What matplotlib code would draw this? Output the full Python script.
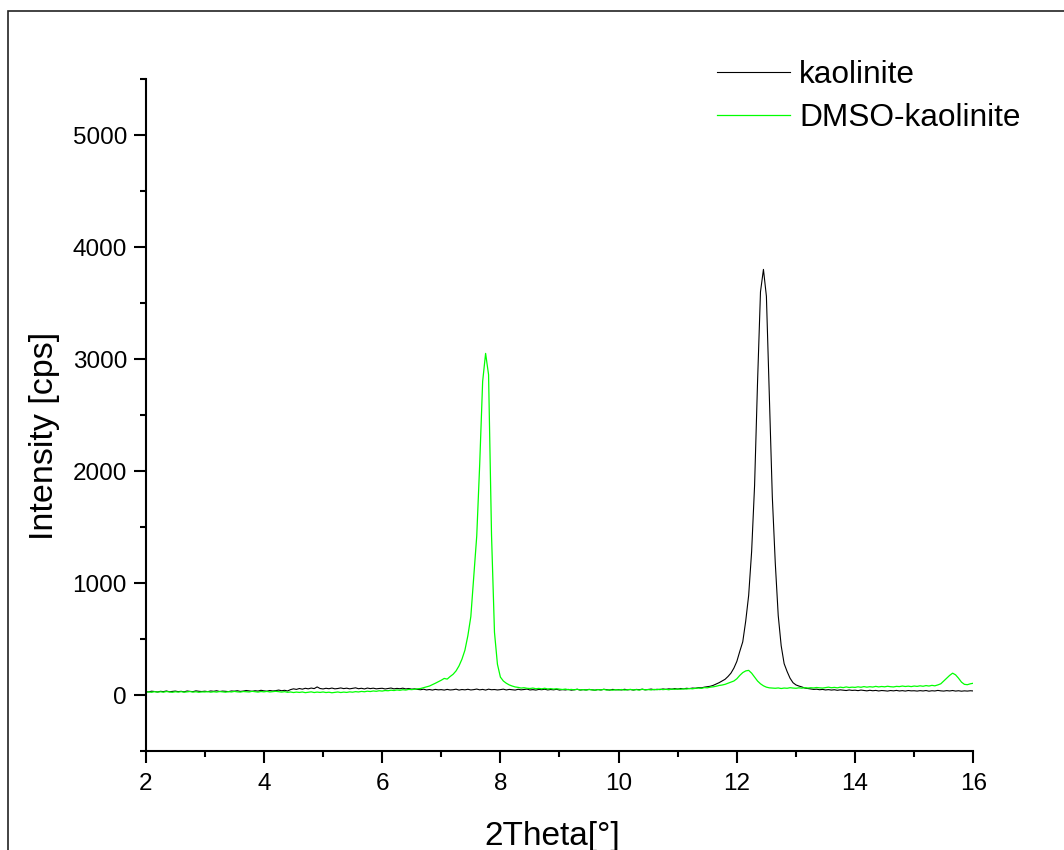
import numpy as np
import matplotlib
matplotlib.use("Agg")
import matplotlib.pyplot as plt
from matplotlib.ticker import MultipleLocator
from matplotlib.patches import Rectangle

plt.rcParams['font.family'] = ['Liberation Sans', 'DejaVu Sans']

# 2Theta scan, 0.05 degree steps from 2 to 16
theta_start, theta_end, theta_points = 2.0, 16.0, 281

kaolinite = [
    30, 28, 34, 31, 27, 33, 30, 36, 29, 32, 35, 30, 33, 28, 36, 32, 30, 37, 33, 31,
    34, 30, 36, 33, 38, 31, 35, 33, 30, 36, 34, 38, 32, 35, 40, 36, 33, 38, 35, 42,
    37, 34, 40, 36, 39, 44, 38, 42, 36, 48, 55, 50, 58, 52, 60, 55, 62, 57, 72, 58,
    54, 60, 56, 62, 55, 58, 63, 57, 61, 55, 59, 64, 56, 60, 54, 62, 57, 61, 55, 58,
    60, 54, 58, 62, 55, 59, 56, 61, 54, 58, 52, 55, 50, 47, 52, 45, 49, 44, 50, 46,
    48, 44, 50, 45, 47, 52, 44, 49, 46, 51, 45, 48, 53, 46, 50, 44, 52, 47, 49, 45,
    48, 52, 45, 50, 47, 44, 51, 46, 49, 53, 45, 48, 44, 50, 47, 52, 45, 49, 46, 51,
    44, 48, 45, 50, 43, 47, 51, 44, 48, 45, 50, 46, 43, 49, 45, 51, 47, 44, 50, 46,
    48, 45, 51, 46, 49, 44, 50, 47, 52, 46, 49, 53, 47, 51, 48, 54, 50, 55, 52, 57,
    53, 58, 55, 60, 57, 62, 60, 66, 64, 70, 74, 78, 86, 98, 110, 125, 140, 165, 195, 240,
    300, 390, 475, 660, 890, 1280, 1870, 2790, 3600, 3800, 3560, 2660, 1770, 1180, 710, 440, 280, 210, 150, 110,
    90, 80, 72, 62, 58, 55, 50, 52, 47, 50, 45, 48, 44, 47, 42, 46, 43, 40, 45, 41,
    43, 39, 44, 40, 37, 42, 38, 41, 36, 40, 38, 35, 40, 37, 41, 36, 39, 35, 40, 37,
    38, 35, 39, 36, 40, 34, 38, 36, 41, 37, 35, 39, 36, 40, 35, 38, 34, 37, 35, 38,
    36,
]

dmso_kaolinite = [
    25, 28, 24, 30, 26, 29, 25, 31, 27, 24, 29, 26, 30, 25, 28, 31, 26, 29, 24, 28,
    27, 30, 25, 29, 26, 31, 28, 25, 30, 27, 32, 28, 26, 31, 29, 27, 33, 29, 26, 31,
    28, 32, 27, 30, 33, 29, 26, 30, 24, 27, 22, 26, 23, 27, 21, 25, 28, 22, 26, 23,
    27, 22, 25, 20, 24, 27, 22, 26, 23, 28, 25, 30, 27, 32, 29, 34, 31, 36, 33, 38,
    35, 40, 38, 43, 40, 45, 42, 47, 44, 50, 48, 52, 55, 58, 65, 72, 80, 92, 105, 118,
    132, 148, 142, 165, 185, 215, 260, 320, 400, 530, 700, 1060, 1420, 2060, 2800, 3050, 2860, 1430, 560, 275,
    160, 125, 105, 90, 80, 72, 68, 62, 65, 60, 58, 62, 56, 59, 55, 60, 54, 57, 53, 56,
    52, 49, 53, 47, 50, 46, 51, 45, 48, 44, 49, 46, 43, 48, 45, 50, 44, 47, 43, 48,
    45, 49, 44, 47, 50, 45, 48, 44, 51, 46, 49, 45, 50, 47, 52, 48, 51, 47, 53, 50,
    54, 51, 56, 53, 58, 55, 60, 62, 59, 66, 64, 70, 73, 78, 85, 89, 95, 105, 115, 125,
    145, 175, 200, 215, 220, 195, 160, 125, 100, 82, 70, 64, 62, 60, 63, 58, 62, 60, 65, 62,
    60, 64, 61, 66, 62, 65, 63, 67, 64, 62, 66, 70, 65, 68, 64, 70, 66, 72, 67, 70,
    68, 73, 69, 75, 70, 74, 71, 77, 72, 76, 73, 78, 74, 72, 77, 75, 80, 76, 79, 75,
    80, 77, 82, 78, 84, 80, 86, 82, 90, 100, 125, 150, 175, 195, 180, 150, 115, 95, 92, 100,
    105,
]

series_labels = ["kaolinite", "DMSO-kaolinite"]
x_label = "2Theta[°]"
y_label = "Intensity [cps]"

theta = np.linspace(theta_start, theta_end, theta_points)

W, H = 1064, 850
fig = plt.figure(figsize=(W / 100, H / 100), dpi=100)
ax_left, ax_right, ax_top, ax_bottom = 145.7, 973.3, 79, 751
ax = fig.add_axes([ax_left / W, 1 - ax_bottom / H, (ax_right - ax_left) / W, (ax_bottom - ax_top) / H])

ax.plot(theta, kaolinite, color="#000000", lw=0.8, label=series_labels[0])
ax.plot(theta, dmso_kaolinite, color="#00ff00", lw=0.9, label=series_labels[1])

ax.set_xlim(2, 16)
ax.set_ylim(-500, 5500)
ax.xaxis.set_major_locator(MultipleLocator(2))
ax.xaxis.set_minor_locator(MultipleLocator(1))
ax.yaxis.set_major_locator(MultipleLocator(1000))
ax.yaxis.set_minor_locator(MultipleLocator(500))

for s in ["top", "right"]:
    ax.spines[s].set_visible(False)
for s in ["left", "bottom"]:
    ax.spines[s].set_linewidth(1.5)

ax.tick_params(which="major", direction="out", length=8.5, width=1.5, labelsize=17.5, pad=5)
ax.tick_params(which="minor", direction="out", length=4, width=1.5)
ax.tick_params(axis="x", which="major", pad=7)

ax.set_xlabel(x_label, fontsize=24, va="top")
ax.set_ylabel(y_label, fontsize=24.5, va="center")
ax_w, ax_h = ax_right - ax_left, ax_bottom - ax_top
ax.xaxis.set_label_coords((552 - ax_left) / ax_w, (ax_bottom - 821) / ax_h)
ax.yaxis.set_label_coords((45 - ax_left) / ax_w, (ax_bottom - 436) / ax_h)

leg = ax.legend(loc="upper left", bbox_to_anchor=((717 - ax_left) / ax_w, (ax_bottom - 60) / ax_h),
                frameon=False, fontsize=22.8, handlelength=2.3, handletextpad=0.3,
                labelspacing=0.4, borderpad=0, borderaxespad=0)

fig.add_artist(Rectangle((8 / W, -0.1), 2, 1.1 - 10.5 / H, fill=False,
                         lw=1.2, ec="#222222", transform=fig.transFigure))

fig.savefig("out.png", dpi=100)
